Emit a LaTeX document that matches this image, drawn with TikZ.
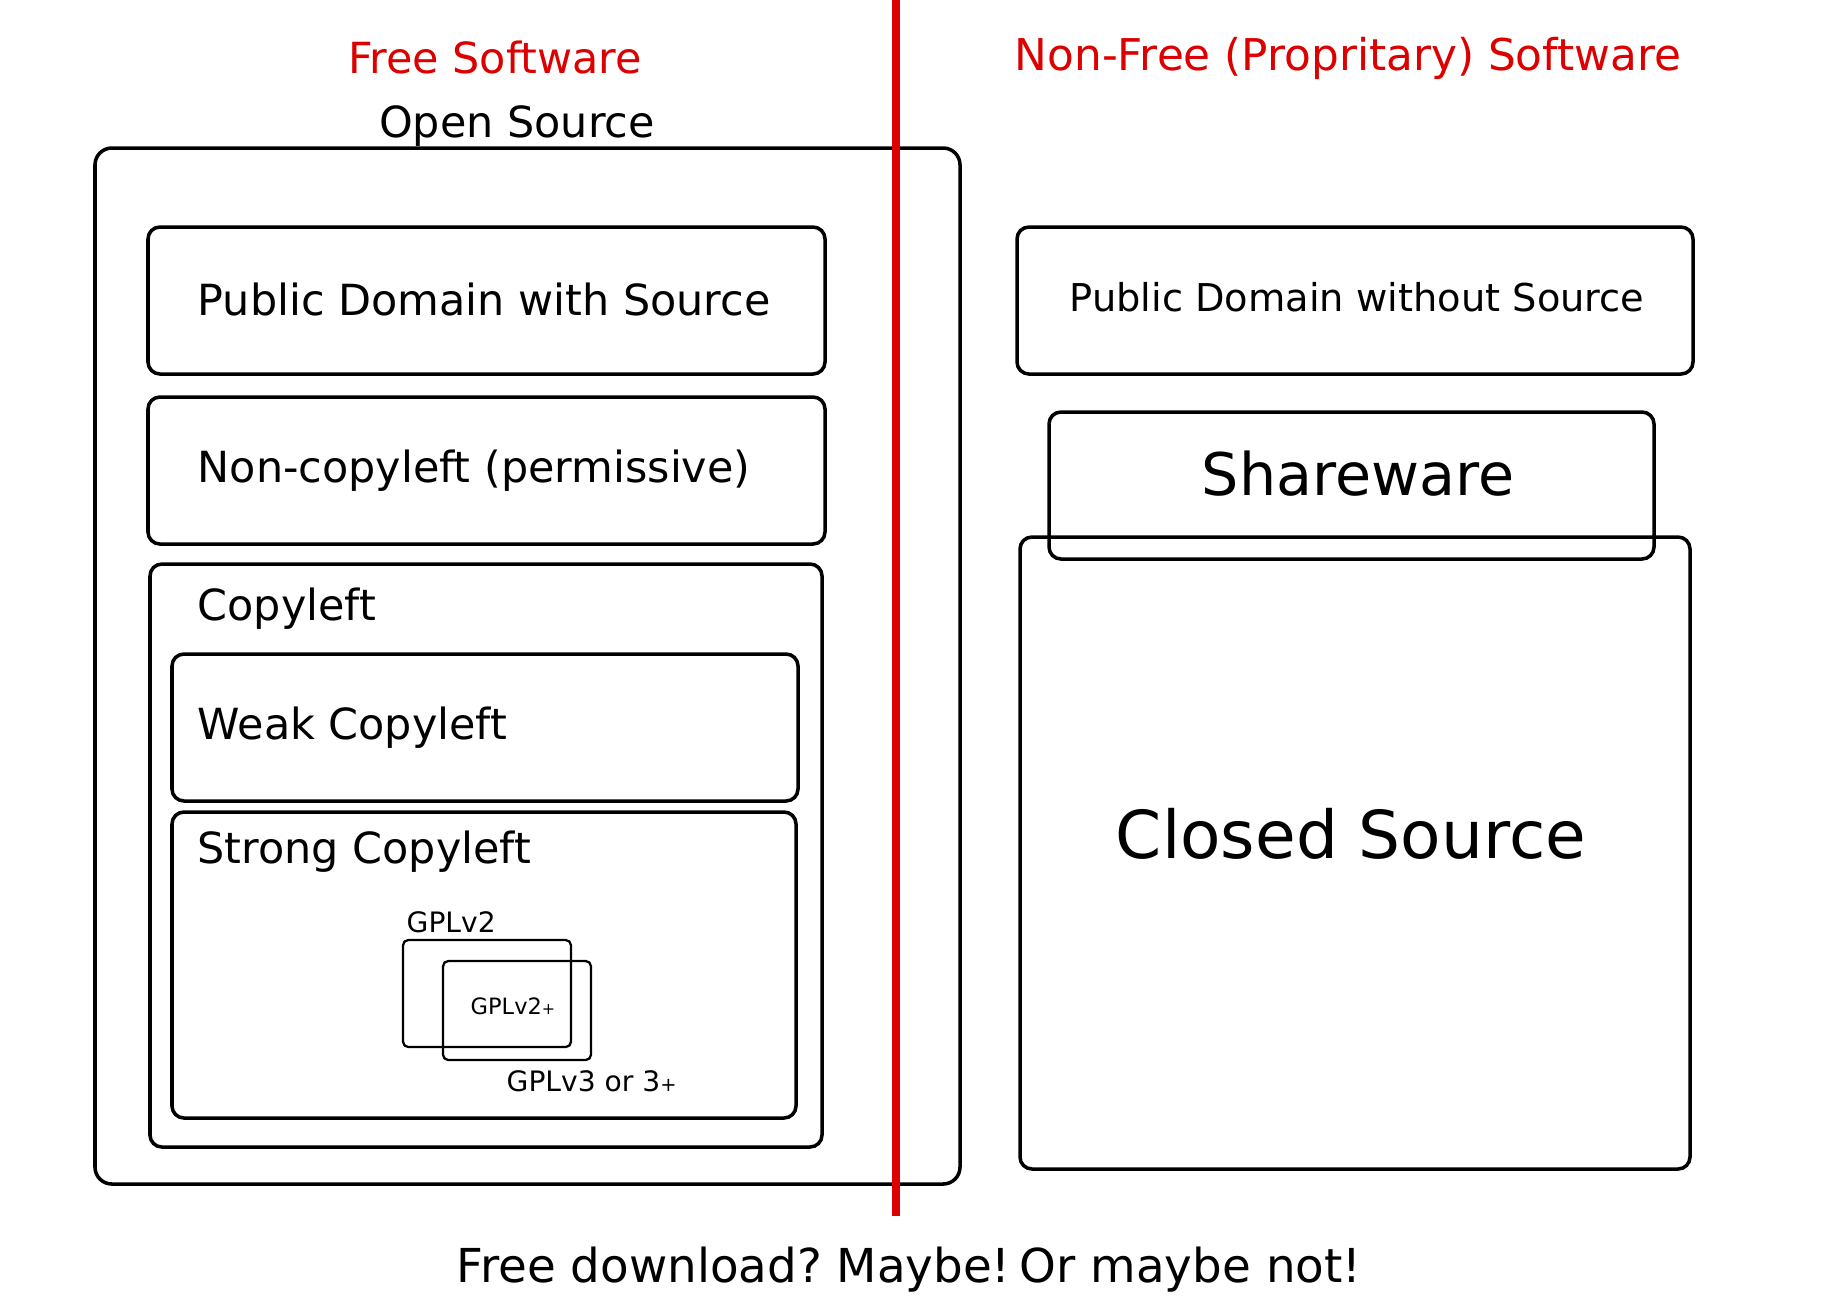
\documentclass[tikz,border=0pt]{standalone}
\usepackage{fontspec}
\setmainfont{DejaVu Sans}
\usepackage{tikz}
\usetikzlibrary{positioning}
\frenchspacing

\definecolor{freered}{RGB}{221,0,0}

\tikzset{
  box/.style = {draw = black, line width = 1pt, rounded corners = 3.4pt},
  gplbox/.style = {draw = black, line width = 0.65pt, rounded corners = 1.5pt},
  label/.style = {anchor = base west, inner sep = 0pt, font = \fontsize{12.2}{14}\selectfont},
  title/.style = {anchor = base, inner sep = 0pt, font = \fontsize{12.2}{14}\selectfont},
  gpltext/.style = {anchor = base west, inner sep = 0pt, font = \fontsize{8}{10}\selectfont},
}

\begin{document}
\begin{tikzpicture}[x = 0.01cm, y = -0.01cm]
        \useasboundingbox (0, 0) rectangle (1842, 1302);

        % free side
        \draw[box, rounded corners = 4.8pt] (95, 148) rectangle (960, 1184);
        \draw[box] (148, 227) rectangle (825, 374);
        \draw[box] (148, 397) rectangle (825, 544);
        \draw[box] (150, 564) rectangle (822, 1147);
        \draw[box] (172, 654) rectangle (798, 801);
        \draw[box] (172, 812) rectangle (796, 1118);
        \draw[gplbox] (403, 940) rectangle (571, 1047);
        \draw[gplbox] (443, 961) rectangle (591, 1060);

        % non-free side
        \draw[box] (1017, 227) rectangle (1693, 374);
        \draw[box] (1020, 537) rectangle (1690, 1169);
        \draw[box] (1049, 412) rectangle (1654, 559);

        \draw[freered, line width = 2pt] (896, 0) -- (896, 1216);

        \node[title, text = freered] (free) at (495, 73) {Free Software};
        \node[title, text = freered, font = \fontsize{12.45}{14}\selectfont] (nonfree) at (1348, 70)
            {Non-Free (Propritary) Software};
        \node[title] (open) at (517, 137) {Open Source};

        \node[label] (pdsrc) at (197, 315) {Public Domain with Source};
        \node[label] (noncopy) at (197, 482) {Non-copyleft (permissive)};
        \node[label] (copy) at (197, 620) {Copyleft};
        \node[label] (weak) at (197, 739) {Weak Copyleft};
        \node[label] (strong) at (197, 863) {Strong Copyleft};

        \node[gpltext] (gpltwo) at (406, 932) {GPLv2};
        \node[gpltext, font = \fontsize{6.4}{8}\selectfont] (gpltwoplus) at (470, 1014)
            {GPLv2{\fontsize{4.5}{5}\selectfont+}};
        \node[gpltext] (gplthree) at (506, 1091) {GPLv3 or 3{\fontsize{5.5}{6}\selectfont+}};

        \node[title, font = \fontsize{10.9}{13}\selectfont] (pdnosrc) at (1357, 311)
            {Public Domain without Source};
        \node[title, font = \fontsize{16.7}{20}\selectfont] (share) at (1358, 495) {Shareware};
        \node[title, font = \fontsize{18.8}{22}\selectfont] (closed) at (1351, 858) {Closed Source};

        \node[title, font = \fontsize{13.3}{16}\selectfont] (download) at (909, 1282)
            {Free download? Maybe!\hspace{-0.12em} Or maybe not!};
    \end{tikzpicture}
\end{document}
